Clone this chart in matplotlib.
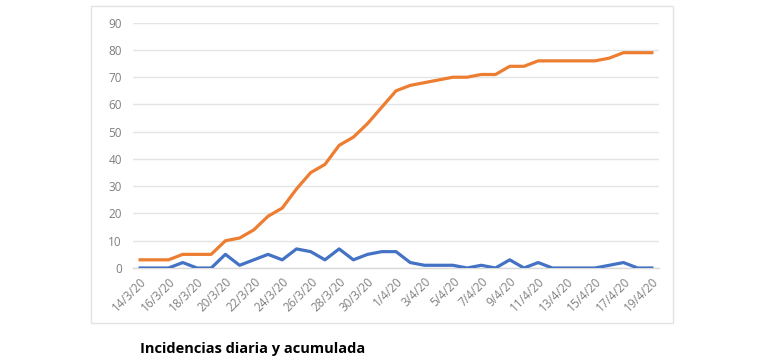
import matplotlib
matplotlib.use("Agg")
import matplotlib.pyplot as plt
from matplotlib.patches import Rectangle

dates = ["14/3/20","15/3/20","16/3/20","17/3/20","18/3/20","19/3/20","20/3/20","21/3/20",
         "22/3/20","23/3/20","24/3/20","25/3/20","26/3/20","27/3/20","28/3/20","29/3/20",
         "30/3/20","31/3/20","1/4/20","2/4/20","3/4/20","4/4/20","5/4/20","6/4/20",
         "7/4/20","8/4/20","9/4/20","10/4/20","11/4/20","12/4/20","13/4/20","14/4/20",
         "15/4/20","16/4/20","17/4/20","18/4/20","19/4/20"]
diaria = [0,0,0,2,0,0,5,1,3,5,3,7,6,3,7,3,5,6,6,2,1,1,1,0,1,0,3,0,2,0,0,0,0,1,2,0,0]
acumulada = [3,3,3,5,5,5,10,11,14,19,22,29,35,38,45,48,53,59,65,67,68,69,70,70,71,71,
             74,74,76,76,76,76,76,77,79,79,79]
yticks = [0,10,20,30,40,50,60,70,80,90]
title = "Incidencias diaria y acumulada"

W, H = 770, 363
fig = plt.figure(figsize=(W/100, H/100), dpi=100)
fig.patch.set_facecolor("white")

# chart box border
fig.patches.append(Rectangle((91/W, 1-323/H), (673-91)/W, (323-6)/H,
                             transform=fig.transFigure, fill=False,
                             edgecolor="#E3E3E3", linewidth=1.0))

ax = fig.add_axes([133/W, 1-268/H, (659-133)/W, (268-22.7)/H])
x = list(range(len(dates)))
ax.plot(x, acumulada, color="#ED7D31", linewidth=2.3, solid_joinstyle="round", zorder=3)
ax.plot(x, diaria, color="#4472C4", linewidth=2.3, solid_joinstyle="round", zorder=4)

ax.set_xlim(-0.5, len(dates)-0.5)
ax.set_ylim(0, 90)
ax.set_yticks(yticks)
ax.set_yticklabels([str(v) for v in yticks], fontsize=8.5, color="#7F7F7F", family="Open Sans")
ax.yaxis.grid(True, color="#E4E4E4", linewidth=1.0)
ax.set_axisbelow(True)
ax.tick_params(axis="y", length=0, pad=8)

ax.set_xticks(x[::2])
ax.set_xticklabels(dates[::2], rotation=45, ha="right", va="top", rotation_mode="anchor",
                   fontsize=8.5, color="#7F7F7F", family="Open Sans")
ax.tick_params(axis="x", length=0, pad=5)
for s in ["top", "right", "left"]:
    ax.spines[s].set_visible(False)
ax.spines["bottom"].set_color("#D9D9D9")
ax.spines["bottom"].set_linewidth(1.0)

fig.text(140/W, 1-349/H, title, fontsize=10.5, fontweight="bold", family="Open Sans",
         color="black", ha="left", va="center")

fig.savefig("out.png", dpi=100, facecolor="white")
